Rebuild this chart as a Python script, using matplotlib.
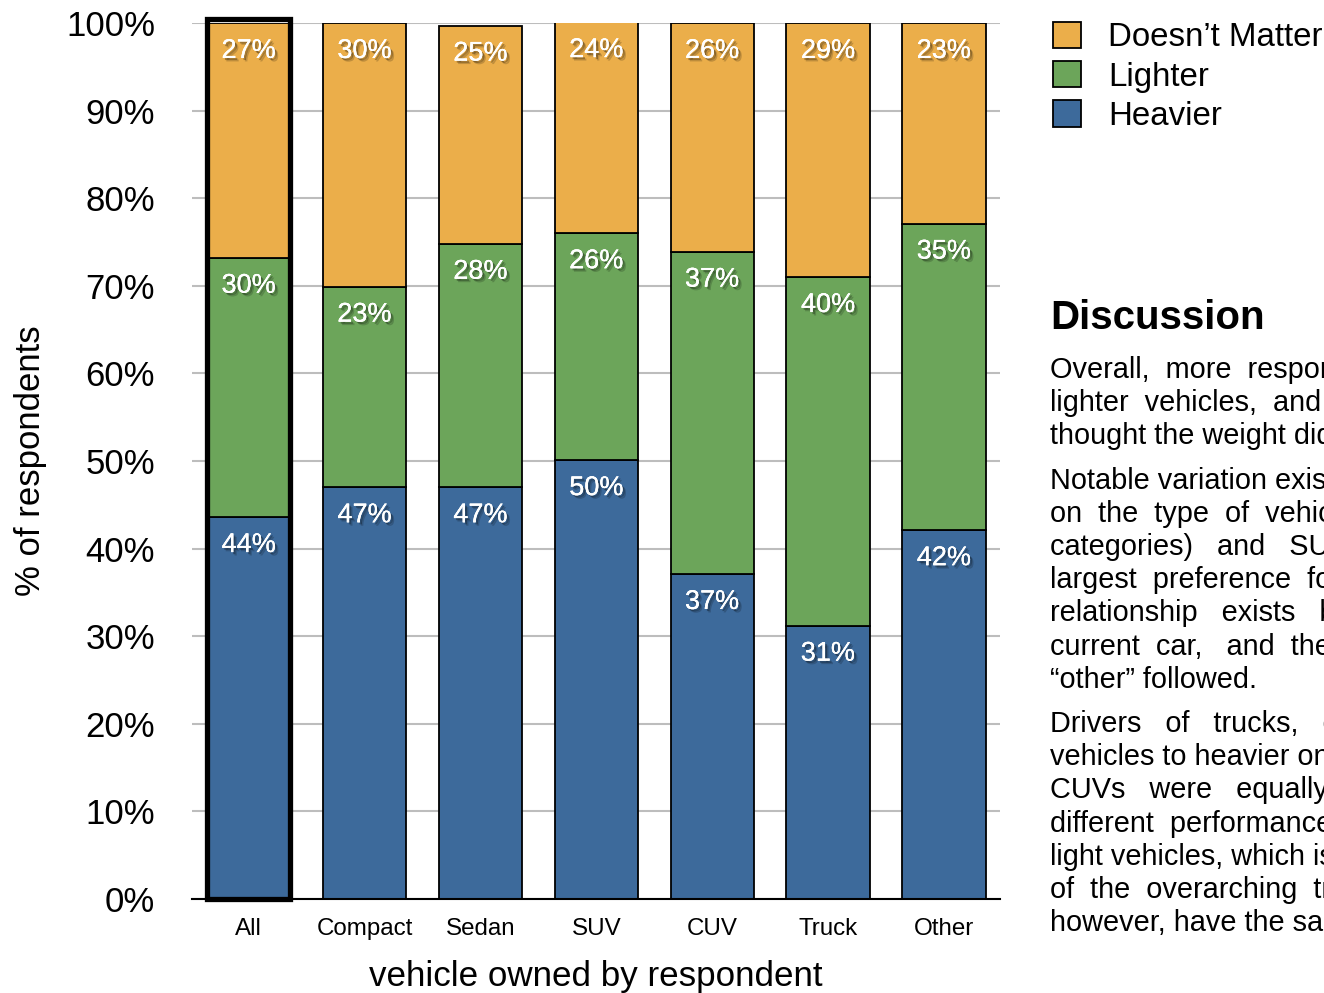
import matplotlib
matplotlib.use("Agg")
import matplotlib.pyplot as plt
import matplotlib.patheffects as pe
from matplotlib.patches import Patch, Rectangle
import numpy as np

plt.rcParams["font.family"] = ["Liberation Sans", "DejaVu Sans"]

categories = ["All", "Compact", "Sedan", "SUV", "CUV", "Truck", "Other"]
heavier = [43.6, 47.0, 47.0, 50.1, 37.1, 31.2, 42.1]
lighter = [29.6, 22.9, 27.8, 25.9, 36.8, 39.8, 35.0]
doesnt_matter = [26.8, 30.1, 24.9, 24.1, 26.1, 29.0, 22.9]

series = [("Heavier", heavier, "#3d6a9b"),
          ("Lighter", lighter, "#6ca55a"),
          ("Doesn\u2019t Matter", doesnt_matter, "#ebae4a")]

yticks = np.arange(0, 101, 10)

discussion = [
    ["Overall,  more  respondents  preferred",
     "lighter  vehicles,  and  about  a  quarter",
     "thought the weight didn\u2019t matter."],
    ["Notable variation exists depending",
     "on  the  type  of  vehicle  owned  (all",
     "categories)   and   SUV  drivers  show",
     "largest  preference  for  heavier.  A",
     "relationship   exists   between   the",
     "current  car,   and  the  preference;",
     "\u201cother\u201d followed."],
    ["Drivers   of   trucks,   on   the   other",
     "vehicles to heavier ones, while",
     "CUVs   were   equally   split   between",
     "different  performance  of  heavy  and",
     "light vehicles, which is a reversal",
     "of  the  overarching  trend.  Others,",
     "however, have the same split."],
]

fig = plt.figure(figsize=(13.24, 9.93), dpi=100)
ax = fig.add_axes([0.145, 0.0947, 0.61, 0.8822])

x = np.arange(len(categories))
width = 0.72
bottom = np.zeros(len(categories))
label_fx = [pe.withSimplePatchShadow(offset=(1.5, -1.5), shadow_rgbFace="black", alpha=0.3),
            pe.withSimplePatchShadow(offset=(2.5, -2.5), shadow_rgbFace="black", alpha=0.18),
            pe.Normal()]
for name, vals, color in series:
    vals = np.array(vals)
    ax.bar(x, vals, width, bottom=bottom, color=color, edgecolor="black",
           linewidth=1.3, zorder=3)
    for xi, b, v in zip(x, bottom, vals):
        ax.text(xi, b + v - 3.2, f"{round(v):d}%", ha="center", va="center",
                color="white", fontsize=19.5, zorder=5, path_effects=label_fx)
    bottom = bottom + vals

# thick outline around the "All" bar
ax.add_patch(Rectangle((x[0] - width / 2, 0), width, bottom[0] + 0.4, fill=False,
                       edgecolor="black", linewidth=3.8, zorder=4, clip_on=False))

ax.set_xlim(-0.49, 6.48)
ax.set_ylim(0, 100)
ax.set_yticks(yticks)
ax.set_yticklabels([f"{v}%" for v in yticks], fontsize=25)
ax.set_xticks(x)
ax.set_xticklabels(categories, fontsize=17.4)
ax.tick_params(axis="y", length=0, pad=26.5)
ax.tick_params(axis="x", length=0, pad=14)
ax.yaxis.grid(True, color="#bdbdbd", linewidth=1.5, zorder=0)
ax.set_axisbelow(True)
for side in ("top", "right", "left"):
    ax.spines[side].set_visible(False)
ax.spines["bottom"].set_linewidth(1.5)
ax.spines["bottom"].set_zorder(6)

ax.set_xlabel("vehicle owned by respondent", fontsize=25.2, labelpad=14)
ax.set_ylabel("% of respondents", fontsize=25, labelpad=14)

handles = [Patch(facecolor=c, edgecolor="black", linewidth=1.3, label=n)
           for n, _, c in reversed(series)]
ax.legend(handles=handles, loc="upper left", bbox_to_anchor=(1046 / 1324, 1 - 15 / 993),
          bbox_transform=fig.transFigure, frameon=False, fontsize=23.8,
          handlelength=0.87, handleheight=0.87, handletextpad=0.8, labelspacing=0.22,
          borderaxespad=0, borderpad=0.2)

fig.text(1050 / 1324, 1 - 318 / 993, "Discussion", fontsize=29, fontweight="bold",
         ha="left", va="center")
y = 370
for para in discussion:
    for line in para:
        fig.text(1050 / 1324, 1 - y / 993, line, fontsize=20.8, ha="left", va="center")
        y += 33.2
    y += 11

fig.savefig("out.png", dpi=100)
